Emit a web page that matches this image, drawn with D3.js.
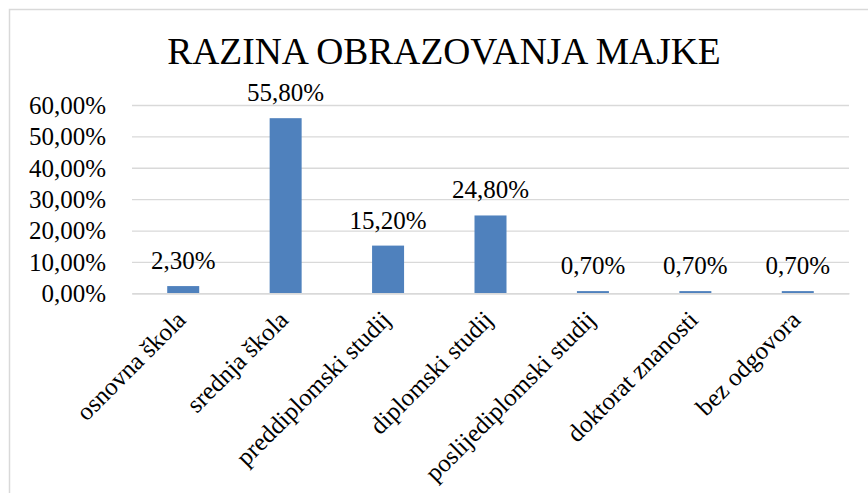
<!DOCTYPE html>
<html>
<head>
<meta charset="utf-8">
<script src="https://cdn.jsdelivr.net/npm/d3@7"></script>
<style>
  html, body { margin: 0; padding: 0; background: #ffffff; }
  svg { display: block; }
</style>
</head>
<body>
<div id="chart"></div>
<script>
const title = "RAZINA OBRAZOVANJA MAJKE";
const categories = ["osnovna škola", "srednja škola", "preddiplomski studij", "diplomski studij", "poslijediplomski studij", "doktorat znanosti", "bez odgovora"];
const values = [2.3, 55.8, 15.2, 24.8, 0.7, 0.7, 0.7];
const yTicks = [0, 10, 20, 30, 40, 50, 60];

const W = 868, H = 493;
const plotLeft = 132, plotRight = 849, plotTop = 105, plotBottom = 293.3;
const font = '"Liberation Serif"';
const fmt = v => v.toFixed(2).replace(".", ",") + "%";

const svg = d3.select("#chart").append("svg").attr("width", W).attr("height", H);

// chart border
svg.append("rect")
  .attr("x", 9.5).attr("y", 9.5).attr("width", 900).attr("height", 600)
  .attr("fill", "none").attr("stroke", "#d9d9d9").attr("stroke-width", 1.5);

// title
svg.append("text")
  .attr("x", 444).attr("y", 64)
  .attr("text-anchor", "middle")
  .style("font-family", font).style("font-size", "37.5px").attr("fill", "#000")
  .text(title);

const x = d3.scaleBand().domain(categories).range([plotLeft, plotRight])
  .paddingInner(0.6876).paddingOuter(0.3438);
const y = d3.scaleLinear().domain([0, 60]).range([plotBottom, plotTop]);

// y axis with gridlines
const yAxis = svg.append("g").attr("transform", `translate(${plotLeft},0)`)
  .call(d3.axisLeft(y).tickValues(yTicks).tickSize(-(plotRight - plotLeft)).tickPadding(26).tickFormat(fmt));
yAxis.attr("font-family", null).attr("font-size", null);
yAxis.select(".domain").remove();
yAxis.selectAll(".tick line").attr("stroke", "#d9d9d9").attr("stroke-width", 1.3);
yAxis.selectAll(".tick text")
  .style("font-family", font).style("font-size", "25px").attr("fill", "#000").attr("dy", "0.33em");

// bars
svg.append("g").selectAll("rect").data(values).join("rect")
  .attr("x", (d, i) => x(categories[i]))
  .attr("y", d => y(d))
  .attr("width", x.bandwidth())
  .attr("height", d => y(0) - y(d))
  .attr("fill", "#4f81bd");

// x axis
const xAxis = svg.append("g").attr("transform", `translate(0,${plotBottom})`)
  .call(d3.axisBottom(x).tickSize(0).tickSizeOuter(0));
xAxis.attr("font-family", null).attr("font-size", null);
xAxis.select(".domain").attr("stroke", "#d9d9d9").attr("stroke-width", 1.5);
xAxis.selectAll(".tick text")
  .style("font-family", font).style("font-size", "25px").attr("fill", "#000")
  .attr("text-anchor", "end")
  .attr("x", 0).attr("y", 0).attr("dy", 0)
  .attr("transform", "translate(4,28) rotate(-45)");

// value labels
svg.append("g").selectAll("text").data(values).join("text")
  .attr("x", (d, i) => x(categories[i]) + x.bandwidth() / 2)
  .attr("y", d => y(d) - 17)
  .attr("text-anchor", "middle")
  .style("font-family", font).style("font-size", "25px").attr("fill", "#000")
  .text(fmt);
</script>
</body>
</html>
